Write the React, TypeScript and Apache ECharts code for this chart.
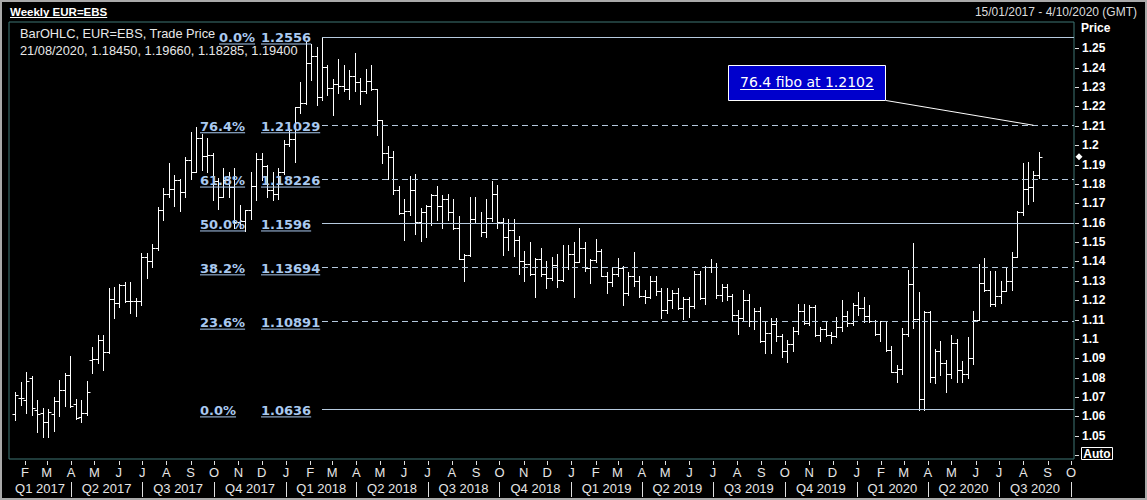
import React, { useEffect, useRef } from 'react';
import * as echarts from 'echarts';

const DAY = 86400000;
const EPOCH = Date.UTC(2017, 0, 1);
const FIRST_BAR = Date.UTC(2017, 0, 20); // first weekly bar (Friday)
const X_MIN = 10.7;
const X_MAX = 1372.8;

// Weekly OHLC, week ending 20/01/2017 ... 21/08/2020
const opens = [
  1.0614, 1.0697, 1.0686, 1.0796, 1.0631, 1.0617, 1.0571, 1.0610, 1.0679, 1.0738, 1.0812, 1.0666, 1.0597, 1.0617, 1.0892, 1.0895, 1.0995, 1.0932, 1.1205, 1.1183, 1.1280, 1.1196, 1.1198, 1.1195, 1.1425, 1.1401, 1.1470, 1.1665, 1.1750, 1.1775, 1.1822, 1.1760, 1.1925, 1.1860, 1.2035, 1.1945, 1.1950, 1.1815, 1.1732, 1.1820, 1.1785, 1.1605, 1.1610, 1.1665, 1.1790, 1.1930, 1.1895, 1.1770, 1.1750, 1.1860,
  1.2005, 1.2030, 1.2195, 1.2220, 1.2425, 1.2460, 1.2250, 1.2405, 1.2295, 1.2315, 1.2305, 1.2290, 1.2355, 1.2325, 1.2280, 1.2330, 1.2290, 1.2130, 1.1960, 1.1940, 1.1770, 1.1650, 1.1660, 1.1770, 1.1605, 1.1655, 1.1685, 1.1745, 1.1685, 1.1720, 1.1655, 1.1570, 1.1410, 1.1435, 1.1620, 1.1600, 1.1550, 1.1625, 1.1750, 1.1605, 1.1525, 1.1560, 1.1510, 1.1400, 1.1385, 1.1335, 1.1415, 1.1335, 1.1315, 1.1380, 1.1305, 1.1370,
  1.1440, 1.1395, 1.1470, 1.1365, 1.1405, 1.1455, 1.1325, 1.1295, 1.1335, 1.1365, 1.1235, 1.1325, 1.1300, 1.1220, 1.1215, 1.1300, 1.1245, 1.1150, 1.1200, 1.1235, 1.1160, 1.1205, 1.1170, 1.1335, 1.1210, 1.1370, 1.1370, 1.1225, 1.1270, 1.1220, 1.1125, 1.1110, 1.1200, 1.1090, 1.1145, 1.0990, 1.1030, 1.1075, 1.1015, 1.0940, 1.0975, 1.1040, 1.1145, 1.1080, 1.1165, 1.1020, 1.1050, 1.1020, 1.1015, 1.1060, 1.1120, 1.1080,
  1.1175, 1.1160, 1.1120, 1.1090, 1.1025, 1.1095, 1.0945, 1.0830, 1.0845, 1.1025, 1.1285, 1.1105, 1.0690, 1.1140, 1.0805, 1.0935, 1.0875, 1.0820, 1.0980, 1.0840, 1.0820, 1.0900, 1.1100, 1.1290, 1.1255, 1.1180, 1.1220, 1.1245, 1.1300, 1.1425, 1.1655, 1.1775, 1.1785, 1.1845,
];
const highs = [
  1.0726, 1.0777, 1.0829, 1.0807, 1.0683, 1.0641, 1.0636, 1.0700, 1.0786, 1.0825, 1.0910, 1.0692, 1.0683, 1.0781, 1.0960, 1.1020, 1.1020, 1.1265, 1.1268, 1.1285, 1.1295, 1.1296, 1.1210, 1.1445, 1.1445, 1.1490, 1.1680, 1.1777, 1.1910, 1.1845, 1.1825, 1.1940, 1.2070, 1.2092, 1.2060, 1.2035, 1.1960, 1.1830, 1.1880, 1.1860, 1.1880, 1.1690, 1.1665, 1.1860, 1.1962, 1.1960, 1.1900, 1.1862, 1.1880, 1.2025,
  1.2090, 1.2195, 1.2325, 1.2537, 1.2522, 1.2505, 1.2556, 1.2415, 1.2340, 1.2445, 1.2415, 1.2390, 1.2475, 1.2345, 1.2395, 1.2415, 1.2290, 1.2130, 1.1995, 1.1970, 1.1790, 1.1720, 1.1840, 1.1852, 1.1675, 1.1690, 1.1750, 1.1790, 1.1745, 1.1750, 1.1720, 1.1635, 1.1440, 1.1735, 1.1735, 1.1655, 1.1720, 1.1815, 1.1795, 1.1625, 1.1620, 1.1620, 1.1530, 1.1455, 1.1500, 1.1420, 1.1470, 1.1400, 1.1425, 1.1440, 1.1485, 1.1485,
  1.1500, 1.1570, 1.1500, 1.1415, 1.1515, 1.1465, 1.1345, 1.1370, 1.1420, 1.1375, 1.1345, 1.1450, 1.1325, 1.1255, 1.1325, 1.1325, 1.1265, 1.1265, 1.1250, 1.1265, 1.1215, 1.1215, 1.1350, 1.1350, 1.1375, 1.1410, 1.1390, 1.1285, 1.1285, 1.1230, 1.1150, 1.1250, 1.1230, 1.1160, 1.1165, 1.1085, 1.1110, 1.1110, 1.1025, 1.0995, 1.1060, 1.1180, 1.1180, 1.1175, 1.1175, 1.1060, 1.1095, 1.1035, 1.1115, 1.1200, 1.1145, 1.1185,
  1.1240, 1.1215, 1.1175, 1.1100, 1.1095, 1.1095, 1.0965, 1.0865, 1.1055, 1.1355, 1.1495, 1.1240, 1.1145, 1.1145, 1.0950, 1.0990, 1.0890, 1.1020, 1.1000, 1.0885, 1.1010, 1.1145, 1.1385, 1.1420, 1.1350, 1.1350, 1.1300, 1.1370, 1.1450, 1.1660, 1.1910, 1.1915, 1.1865, 1.1966,
];
const lows = [
  1.0580, 1.0657, 1.0617, 1.0605, 1.0519, 1.0494, 1.0494, 1.0524, 1.0600, 1.0652, 1.0649, 1.0584, 1.0571, 1.0605, 1.0822, 1.0876, 1.0840, 1.0926, 1.1110, 1.1165, 1.1190, 1.1132, 1.1118, 1.1175, 1.1313, 1.1371, 1.1460, 1.1612, 1.1730, 1.1688, 1.1660, 1.1735, 1.1825, 1.1860, 1.1870, 1.1860, 1.1717, 1.1669, 1.1730, 1.1730, 1.1575, 1.1575, 1.1555, 1.1620, 1.1715, 1.1820, 1.1730, 1.1715, 1.1720, 1.1850,
  1.1995, 1.1915, 1.2165, 1.2215, 1.2335, 1.2206, 1.2235, 1.2260, 1.2155, 1.2270, 1.2280, 1.2240, 1.2280, 1.2215, 1.2270, 1.2285, 1.2055, 1.1910, 1.1825, 1.1750, 1.1645, 1.1510, 1.1640, 1.1541, 1.1508, 1.1525, 1.1590, 1.1615, 1.1575, 1.1615, 1.1565, 1.1410, 1.1300, 1.1430, 1.1600, 1.1530, 1.1525, 1.1610, 1.1570, 1.1435, 1.1460, 1.1430, 1.1335, 1.1300, 1.1330, 1.1215, 1.1325, 1.1265, 1.1305, 1.1270, 1.1300, 1.1360,
  1.1215, 1.1395, 1.1350, 1.1290, 1.1395, 1.1325, 1.1235, 1.1275, 1.1325, 1.1175, 1.1225, 1.1275, 1.1215, 1.1185, 1.1210, 1.1225, 1.1110, 1.1135, 1.1160, 1.1155, 1.1105, 1.1115, 1.1160, 1.1205, 1.1180, 1.1345, 1.1210, 1.1195, 1.1200, 1.1100, 1.1025, 1.1090, 1.1065, 1.1050, 1.0985, 1.0925, 1.0925, 1.0990, 1.0905, 1.0880, 1.0940, 1.1025, 1.1075, 1.1070, 1.1015, 1.0990, 1.1015, 1.0980, 1.1010, 1.1040, 1.1065, 1.1070,
  1.1125, 1.1085, 1.1085, 1.1020, 1.0990, 1.0940, 1.0830, 1.0780, 1.0820, 1.1015, 1.1055, 1.0635, 1.0635, 1.0780, 1.0770, 1.0815, 1.0727, 1.0800, 1.0780, 1.0775, 1.0800, 1.0870, 1.1100, 1.1245, 1.1170, 1.1170, 1.1185, 1.1245, 1.1255, 1.1425, 1.1640, 1.1695, 1.1710, 1.18285,
];
const closes = [
  1.0709, 1.0697, 1.0782, 1.0645, 1.0610, 1.0571, 1.0623, 1.0678, 1.0738, 1.0812, 1.0652, 1.0592, 1.0617, 1.0726, 1.0895, 1.0995, 1.0932, 1.1205, 1.1183, 1.1280, 1.1196, 1.1198, 1.1195, 1.1425, 1.1401, 1.1470, 1.1665, 1.1750, 1.1775, 1.1822, 1.1760, 1.1925, 1.1860, 1.2035, 1.1945, 1.1950, 1.1815, 1.1732, 1.1820, 1.1785, 1.1605, 1.1610, 1.1665, 1.1790, 1.1930, 1.1895, 1.1770, 1.1750, 1.1860, 1.2005,
  1.2030, 1.2195, 1.2220, 1.2425, 1.2460, 1.2250, 1.2405, 1.2295, 1.2315, 1.2305, 1.2290, 1.2355, 1.2325, 1.2280, 1.2330, 1.2290, 1.2130, 1.1960, 1.1940, 1.1770, 1.1650, 1.1660, 1.1770, 1.1605, 1.1655, 1.1685, 1.1745, 1.1685, 1.1720, 1.1655, 1.1570, 1.1410, 1.1435, 1.1620, 1.1600, 1.1550, 1.1625, 1.1750, 1.1605, 1.1525, 1.1560, 1.1510, 1.1400, 1.1385, 1.1335, 1.1415, 1.1335, 1.1315, 1.1380, 1.1305, 1.1370, 1.1440,
  1.1395, 1.1470, 1.1365, 1.1405, 1.1455, 1.1325, 1.1295, 1.1335, 1.1365, 1.1235, 1.1325, 1.1300, 1.1220, 1.1215, 1.1300, 1.1245, 1.1150, 1.1200, 1.1235, 1.1160, 1.1205, 1.1170, 1.1335, 1.1210, 1.1370, 1.1370, 1.1225, 1.1270, 1.1220, 1.1125, 1.1110, 1.1200, 1.1090, 1.1145, 1.0990, 1.1030, 1.1075, 1.1015, 1.0940, 1.0975, 1.1040, 1.1145, 1.1080, 1.1165, 1.1020, 1.1050, 1.1020, 1.1015, 1.1060, 1.1120, 1.1080, 1.1175,
  1.1160, 1.1120, 1.1090, 1.1025, 1.1095, 1.0945, 1.0830, 1.0845, 1.1025, 1.1285, 1.1105, 1.0690, 1.1140, 1.0805, 1.0935, 1.0875, 1.0820, 1.0980, 1.0840, 1.0820, 1.0900, 1.1100, 1.1290, 1.1255, 1.1180, 1.1220, 1.1245, 1.1300, 1.1425, 1.1655, 1.1775, 1.1785, 1.1845, 1.1940,
];

const yTickValues = [1.04, 1.05, 1.06, 1.07, 1.08, 1.09, 1.1, 1.11, 1.12, 1.13, 1.14, 1.15, 1.16, 1.17, 1.18, 1.19, 1.2, 1.21, 1.22, 1.23, 1.24, 1.25];
const yLabelValues = [1.05, 1.06, 1.07, 1.08, 1.09, 1.1, 1.11, 1.12, 1.13, 1.14, 1.15, 1.16, 1.17, 1.18, 1.19, 1.2, 1.21, 1.22, 1.23, 1.24, 1.25];
const monthLetters = ['J', 'F', 'M', 'A', 'M', 'J', 'J', 'A', 'S', 'O', 'N', 'D'];
const years = [2017, 2018, 2019, 2020];

const fibLevels = [
  { pct: '0.0%', price: '1.2556', value: 1.2556, dashed: false, top: true },
  { pct: '76.4%', price: '1.21029', value: 1.21029, dashed: true, top: false },
  { pct: '61.8%', price: '1.18226', value: 1.18226, dashed: true, top: false },
  { pct: '50.0%', price: '1.1596', value: 1.1596, dashed: false, top: false },
  { pct: '38.2%', price: '1.13694', value: 1.13694, dashed: true, top: false },
  { pct: '23.6%', price: '1.10891', value: 1.10891, dashed: true, top: false },
  { pct: '0.0%', price: '1.0636', value: 1.0636, dashed: false, top: false },
];
const annotationText = '76.4 fibo at 1.2102';
const annotationLevel = 1.21029;
const titleText = 'Weekly EUR=EBS';
const rangeText = '15/01/2017 - 4/10/2020 (GMT)';
const legendLine1 = 'BarOHLC, EUR=EBS, Trade Price';
const legendLine2 = '21/08/2020, 1.18450, 1.19660, 1.18285, 1.19400';

const FIB_COLOR = '#b6cadf';
const LABEL_BLUE = '#a9c9ef';
const FRAME = '#3e7775';
const TICK = '#e0e0e0';

function dayOf(y: number, m: number, d = 1) {
  return (Date.UTC(y, m, d) - EPOCH) / DAY;
}

function textWidth(text: string, font: string) {
  const ctx = document.createElement('canvas').getContext('2d');
  if (!ctx) return text.length * 7;
  ctx.font = font;
  return ctx.measureText(text).width;
}

function txt(text: string, x: number, y: number, font: string, fill: string, align = 'left') {
  return {
    type: 'text',
    z: 100,
    silent: true,
    style: { text, x, y, font, fill, align, verticalAlign: 'middle', textAlign: align, textVerticalAlign: 'middle' },
  };
}
function ln(x1: number, y1: number, x2: number, y2: number, stroke: string, lineWidth = 1) {
  return { type: 'line', z: 100, silent: true, shape: { x1, y1, x2, y2 }, style: { stroke, lineWidth } };
}

export default function App() {
  const ref = useRef<HTMLDivElement>(null);

  useEffect(() => {
    document.body.style.margin = '0';
    document.body.style.background = '#000';
    const chart = echarts.init(ref.current!, null, { renderer: 'svg' });

    const firstDay = (FIRST_BAR - EPOCH) / DAY;
    const barDays = opens.map((_, i) => firstDay + 7 * i);
    const data = barDays.map((d, i) => [d, opens[i], highs[i], lows[i], closes[i]]);

    const monthDays: number[] = [];
    const quarterBounds: number[] = [];
    const quarterMids: number[] = [];
    const quarterNames: string[] = [];
    years.forEach((y) => {
      for (let m = 0; m < 12; m++) {
        const d = dayOf(y, m);
        if (d >= X_MIN && d <= X_MAX) monthDays.push(d);
        if (m % 3 === 0) {
          if (d >= X_MIN && d <= X_MAX) quarterBounds.push(d);
          const end = m === 9 ? dayOf(y + 1, 0) : dayOf(y, m + 3);
          if (d < X_MAX - 10 && end > X_MIN) {
            const s = Math.max(d, X_MIN);
            const e = Math.min(end, X_MAX);
            quarterMids.push((s + e) / 2);
            quarterNames.push('Q' + (m / 3 + 1) + ' ' + y);
          }
        }
      }
    });

    let hiIdx = 0;
    highs.forEach((h, i) => { if (h > highs[hiIdx]) hiIdx = i; });
    const fibStart = barDays[hiIdx];

    const axisFont = { color: '#e6e6e6', fontSize: 13, fontFamily: 'Liberation Sans, Arial, sans-serif' };

    chart.setOption({
      animation: false,
      backgroundColor: '#000',
      grid: { left: 9, top: 22, right: 73, bottom: 41, show: true, borderColor: FRAME, borderWidth: 1, backgroundColor: '#000' },
      xAxis: [
        {
          type: 'value', min: X_MIN, max: X_MAX, position: 'bottom',
          axisLine: { show: false }, splitLine: { show: false },
          axisTick: { show: false },
          axisLabel: {
            customValues: monthDays, margin: 7, ...axisFont,
            formatter: (v: number) => monthLetters[new Date(EPOCH + Math.round(v) * DAY).getUTCMonth()],
          },
        },
        {
          type: 'value', min: X_MIN, max: X_MAX, position: 'bottom', offset: 23,
          axisLine: { show: false }, splitLine: { show: false },
          axisTick: { show: false },
          axisLabel: {
            customValues: quarterMids, margin: 0, ...axisFont,
            formatter: (v: number) => {
              let best = 0;
              quarterMids.forEach((q, i) => { if (Math.abs(q - v) < Math.abs(quarterMids[best] - v)) best = i; });
              return quarterNames[best];
            },
          },
        },
      ],
      yAxis: {
        type: 'value', position: 'right', min: 1.038, max: 1.2636,
        axisLine: { show: false }, splitLine: { show: false },
        axisTick: { show: false },
        axisLabel: {
          customValues: yLabelValues, margin: 8, color: '#ffffff', fontSize: 12, fontWeight: 'bold',
          fontFamily: 'Liberation Sans, Arial, sans-serif',
          formatter: (v: number) => String(parseFloat(Number(v).toFixed(2))),
        },
      },
      series: [
        {
          type: 'custom',
          xAxisIndex: 0,
          yAxisIndex: 0,
          encode: { x: 0, y: [1, 2, 3, 4] },
          data,
          renderItem: (params: any, api: any) => {
            const d = api.value(0);
            const o = api.coord([d, api.value(1)]);
            const h = api.coord([d, api.value(2)]);
            const l = api.coord([d, api.value(3)]);
            const c = api.coord([d, api.value(4)]);
            const x = Math.round(o[0]) + 0.5;
            const oy = Math.round(o[1]) + 0.5;
            const cy = Math.round(c[1]) + 0.5;
            const st = { stroke: '#ffffff', lineWidth: 1 };
            return {
              type: 'group',
              children: [
                { type: 'line', shape: { x1: x, y1: Math.round(h[1]), x2: x, y2: Math.round(l[1]) + 1 }, style: st },
                { type: 'line', shape: { x1: x - 3, y1: oy, x2: x, y2: oy }, style: st },
                { type: 'line', shape: { x1: x, y1: cy, x2: x + 3, y2: cy }, style: st },
              ],
            };
          },
          markLine: {
            silent: true,
            symbol: ['none', 'none'],
            label: { show: false },
            animation: false,
            data: fibLevels.map((f) => [
              { coord: [fibStart, f.value], lineStyle: { color: FIB_COLOR, width: 1, type: f.dashed ? [6, 4] : 'solid' } },
              { coord: [X_MAX, f.value] },
            ]),
          },
        },
      ],
    });

    const yPx = (v: number) => chart.convertToPixel({ yAxisIndex: 0 }, v) as number;
    const xPx = (d: number) => chart.convertToPixel({ xAxisIndex: 0 }, d) as number;

    const g: any[] = [];
    // outer frame
    g.push({ type: 'rect', z: 100, silent: true, shape: { x: 1, y: 1, width: 1145, height: 498 }, style: { fill: 'none', stroke: '#a9a9a9', lineWidth: 2 } });

    // axis ticks (month ticks, quarter separators, price ticks)
    monthDays.forEach((d) => {
      const x = Math.round(xPx(d)) + 0.5;
      g.push(ln(x, 461, x, 465, TICK));
    });
    quarterBounds.forEach((d) => {
      const x = Math.round(xPx(d)) + 0.5;
      g.push(ln(x, 482, x, 497, TICK));
    });
    yTickValues.forEach((v) => {
      const y = Math.round(yPx(v)) + 0.5;
      g.push(ln(1075, y, 1079, y, TICK));
    });

    // header
    const titleFont = "bold 11.5px 'Liberation Sans', Arial, sans-serif";
    g.push(txt(titleText, 10, 12, titleFont, '#ffffff'));
    g.push(ln(10, 17.5, 10 + textWidth(titleText, titleFont), 17.5, '#ffffff'));
    g.push(txt(rangeText, 1137, 12, "12px 'Liberation Sans', Arial, sans-serif", '#dcdcdc', 'right'));

    // legend
    const legFont = "12.8px 'Liberation Sans', Arial, sans-serif";
    g.push(txt(legendLine1, 20, 33, legFont, '#e8e8e8'));
    g.push(txt(legendLine2, 20, 50.5, legFont, '#e8e8e8'));

    // axis title
    g.push(txt('Price', 1081, 28, "bold 12px 'Liberation Sans', Arial, sans-serif", '#ffffff'));

    // fib labels
    const fibFont = "bold 13px 'DejaVu Sans', Verdana, sans-serif";
    fibLevels.forEach((f) => {
      const y = yPx(f.value) + (f.top ? 0 : 1);
      const px = f.top ? 219 : 200;
      const vx = 261;
      g.push(txt(f.pct, px, y, fibFont, LABEL_BLUE));
      g.push(ln(px, y + 6.5, px + textWidth(f.pct, fibFont), y + 6.5, LABEL_BLUE));
      g.push(txt(f.price, vx, y, fibFont, LABEL_BLUE));
      g.push(ln(vx, y + 6.5, vx + textWidth(f.price, fibFont), y + 6.5, LABEL_BLUE));
    });

    // annotation box
    const annFont = "14px 'DejaVu Sans', Verdana, sans-serif";
    g.push({ type: 'rect', z: 100, silent: true, shape: { x: 728.5, y: 65.5, width: 157, height: 35 }, style: { fill: '#0000cc', stroke: '#ffffff', lineWidth: 1 } });
    const aw = textWidth(annotationText, annFont);
    const ax = 807 - aw / 2;
    g.push(txt(annotationText, ax, 82, annFont, '#ffffff'));
    g.push(ln(ax, 89.5, ax + aw, 89.5, '#ffffff'));
    g.push(ln(886, 100.5, xPx(barDays[barDays.length - 2]), yPx(annotationLevel), '#ffffff'));

    // last price marker
    const ly = yPx(closes[closes.length - 1]);
    g.push({ type: 'polygon', z: 100, silent: true, shape: { points: [[1075.5, ly], [1079, ly - 3.5], [1082.5, ly], [1079, ly + 3.5]] }, style: { fill: '#ffffff' } });

    // Auto button
    g.push({ type: 'rect', z: 100, silent: true, shape: { x: 1081.5, y: 447.5, width: 31, height: 12 }, style: { fill: '#000', stroke: '#ffffff', lineWidth: 1 } });
    g.push(txt('Auto', 1097, 454, "bold 12px 'Liberation Sans', Arial, sans-serif", '#ffffff', 'center'));

    chart.setOption({ graphic: g });

    return () => chart.dispose();
  }, []);

  return <div ref={ref} style={{ width: 1147, height: 500, background: '#000' }} />;
}
